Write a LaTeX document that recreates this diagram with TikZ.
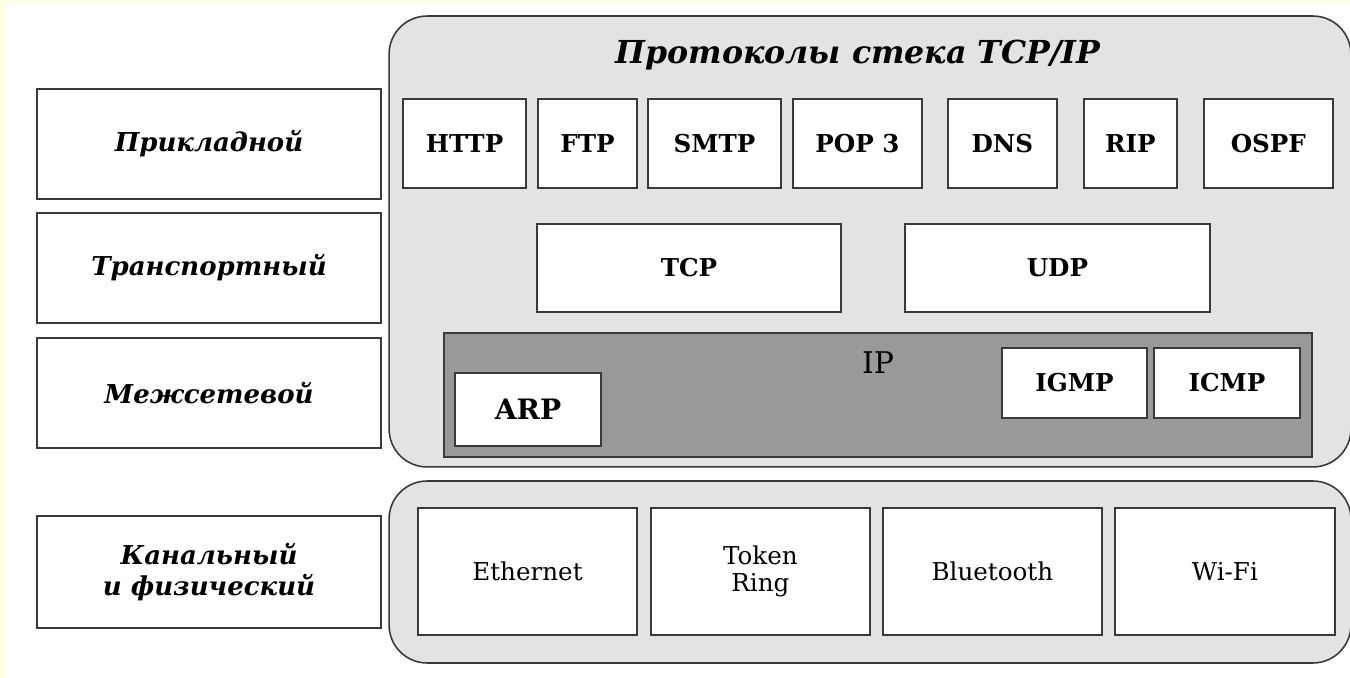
\documentclass[tikz,border=0pt]{standalone}
\usepackage{fontspec}
\setmainfont{DejaVu Serif}
\usetikzlibrary{positioning}

\definecolor{pagebg}{HTML}{FFFFE4}
\definecolor{stackgray}{HTML}{E3E3E3}
\definecolor{ipgray}{HTML}{999999}
\definecolor{edgegray}{HTML}{3A3A3A}

\tikzset{
  layer/.style={draw=edgegray, line width=0.9pt, fill=white, inner sep=0pt,
    outer sep=0pt, minimum width=6.88cm, minimum height=2.2cm, align=center,
    font=\fontsize{14.8}{17.5}\selectfont\bfseries\itshape},
  group/.style={draw=edgegray, line width=0.9pt, fill=stackgray,
    rounded corners=0.76cm, inner sep=0pt},
  proto/.style={draw=edgegray, line width=0.9pt, fill=white, inner sep=0pt,
    outer sep=0pt, minimum height=1.78cm, font=\fontsize{14}{16}\selectfont\bfseries},
  link/.style={draw=edgegray, line width=0.9pt, fill=white, inner sep=0pt,
    outer sep=0pt, minimum width=4.38cm, minimum height=2.54cm, align=center,
    font=\fontsize{14}{15}\selectfont},
}

\begin{document}
\begin{tikzpicture}[x=0.02cm, y=-0.02cm]

  % Page

  \fill[pagebg] (0,0) rectangle (1350,678);
  \fill[white] (6,4) rectangle (1350,678);
  \useasboundingbox (0,0) rectangle (1350,678);

  % Layers

  \node[layer] (app) at (209,144) {Прикладной};
  \node[layer, below=0.28cm of app] (trans) {Транспортный};
  \node[layer, below=0.3cm of trans] (inet) {Межсетевой};
  \node[layer, minimum height=2.24cm, below=1.36cm of inet] (linkl) {Канальный\\и физический};

  % Protocol stack

  \node[group, minimum width=19.24cm, minimum height=9.02cm] (stack) at (870,241.5) {};
  \node[font=\fontsize{18}{20}\selectfont\bfseries\itshape] (title) at (858,55) {Протоколы стека TCP/IP};

  \node[proto, minimum width=2.46cm] (http) at (464.5,143.5) {HTTP};
  \node[proto, minimum width=1.98cm, right=0.24cm of http] (ftp) {FTP};
  \node[proto, minimum width=2.66cm, right=0.22cm of ftp] (smtp) {SMTP};
  \node[proto, minimum width=2.58cm, right=0.24cm of smtp] (pop) {POP 3};
  \node[proto, minimum width=2.18cm, right=0.52cm of pop] (dns) {DNS};
  \node[proto, minimum width=1.86cm, right=0.54cm of dns] (rip) {RIP};
  \node[proto, minimum width=2.58cm, right=0.54cm of rip] (ospf) {OSPF};

  \node[proto, minimum width=6.08cm, minimum height=1.76cm] (tcp) at (689,268) {TCP};
  \node[proto, minimum width=6.1cm, minimum height=1.76cm, right=1.28cm of tcp] (udp) {UDP};

  \node[draw=edgegray, line width=0.9pt, fill=ipgray, minimum width=17.36cm,
    minimum height=2.48cm] (ip) at (878,395) {};
  \node[font=\fontsize{17}{19}\selectfont] (ipname) at (878,363) {IP};
  \node[proto, minimum width=2.92cm, minimum height=1.46cm,
    font=\fontsize{16}{18}\selectfont\bfseries] (arp) at (528,409.5) {ARP};
  \node[proto, minimum width=2.9cm, minimum height=1.4cm] (igmp) at (1074.5,383) {IGMP};
  \node[proto, minimum width=2.92cm, minimum height=1.4cm, right=0.14cm of igmp] (icmp) {ICMP};

  % Link layer

  \node[group, minimum width=19.24cm, minimum height=3.64cm] (phys) at (870,572) {};
  \node[link] (eth) at (527.5,571.5) {Ethernet};
  \node[link, right=0.28cm of eth] (token) {Token\\Ring};
  \node[link, right=0.26cm of token] (bt) {Bluetooth};
  \node[link, minimum width=4.4cm, right=0.26cm of bt] (wifi) {Wi-Fi};

\end{tikzpicture}
\end{document}
